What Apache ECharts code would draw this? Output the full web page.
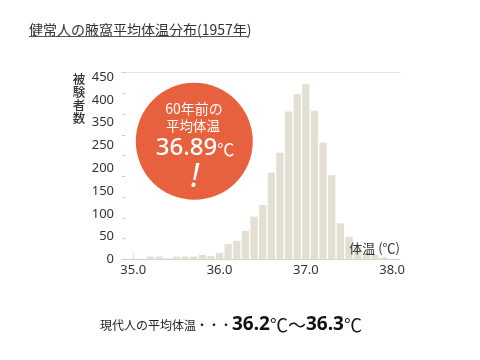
<!DOCTYPE html>
<html>
<head>
<meta charset="utf-8">
<script src="https://cdn.jsdelivr.net/npm/echarts@6/dist/echarts.min.js"></script>
<style>html,body{margin:0;padding:0;background:#fff;}#c{width:480px;height:360px;}</style>
</head>
<body>
<div id="c"></div>
<script>
// Data
var temps  = [35.2,35.3,35.4,35.5,35.6,35.7,35.8,35.9,36.0,36.1,36.2,36.3,36.4,36.5,36.6,36.7,36.8,36.9,37.0,37.1,37.2,37.3,37.4,37.5,37.6,37.7,37.8,37.9];
var counts = [7,7,3,7,7,7,11,8,16,37,45,69,103,131,209,257,356,398,422,358,281,203,87,55,30,16,11,5];
var xTickValues = [35, 36, 37, 38];
var yTickLabels = ['0','50','100','150','200','250','350','400','450'];

var chart = echarts.init(document.getElementById('c'), null, {renderer:'canvas'});
var cjk = '"Noto Sans CJK JP", "Noto Sans", sans-serif';
var sans = '"Noto Sans", "Noto Sans CJK JP", sans-serif';

chart.setOption({
  animation: false,
  backgroundColor: '#fff',
  grid: {left: 122, right: 80, top: 72.5, bottom: 100.5, containLabel: false},
  xAxis: [{
    type: 'value', min: 34.87, max: 38.091,
    axisLine: {show: true, lineStyle: {color: '#cfcfcf', width: 1}},
    axisTick: {show: true, customValues: [35], inside: true, length: 6, lineStyle: {color: '#dcdcdc'}},
    axisLabel: {customValues: xTickValues, formatter: function(v){return v.toFixed(1);}, fontSize: 13, color: '#333', margin: 4, fontFamily: sans},
    splitLine: {show: false}
  },{
    type: 'value', position: 'top', min: 34.87, max: 38.091,
    axisLine: {show: true, onZero: false, lineStyle: {color: '#e2e2e2', width: 1}},
    axisTick: {show: false}, axisLabel: {show: false}, splitLine: {show: false}
  }],
  yAxis: [{
    type: 'value', min: 0, max: 450, interval: 50,
    axisLine: {show: false},
    axisTick: {show: true, inside: true, length: 3, lineStyle: {color: '#cccccc'}},
    axisLabel: {show: false}, splitLine: {show: false}
  },{
    type: 'value', position: 'left', min: 0, max: 8.205, interval: 1,
    axisLine: {show: false}, axisTick: {show: false}, splitLine: {show: false},
    axisLabel: {
      showMaxLabel: false, margin: 8, fontSize: 13, color: '#333', fontFamily: sans,
      formatter: function(v){ return (Math.abs(v - Math.round(v)) < 1e-6 && yTickLabels[Math.round(v)] !== undefined) ? yTickLabels[Math.round(v)] : ''; }
    }
  }],
  series: [{
    type: 'bar', xAxisIndex: 0, yAxisIndex: 0,
    barWidth: 7.3,
    itemStyle: {color: '#e3dfd2'},
    silent: true,
    z: 2,
    data: temps.map(function(t, i){ return [t, counts[i]]; })
  }],
  graphic: [
    {type: 'text', z: 100, style: {text: '健常人の腋窩平均体温分布(1957年)', x: 29, y: 29.5, verticalAlign: 'middle', align: 'left', fontSize: 14, fontFamily: cjk, fill: '#333'}},
    {type: 'line', z: 100, shape: {x1: 29, y1: 36.5, x2: 248, y2: 36.5}, style: {stroke: '#555', lineWidth: 1}},
    {type: 'text', z: 100, style: {text: '被\n験\n者\n数', x: 79, y: 73, align: 'center', verticalAlign: 'top', fontSize: 12.5, lineHeight: 12.8, fontFamily: cjk, fontWeight: 500, fill: '#333'}},
    {type: 'text', z: 100, style: {text: '体温 (℃)', x: 400, y: 248, align: 'right', verticalAlign: 'middle', fontSize: 13, fontFamily: cjk, fill: '#333'}},
    {type: 'circle', z: 100, shape: {cx: 194.3, cy: 141.3, r: 58.5}, style: {fill: '#e8613e'}},
    {type: 'text', z: 101, style: {text: '60年前の', x: 194, y: 109, align: 'center', verticalAlign: 'middle', fontSize: 14, fontFamily: cjk, fill: '#fff'}},
    {type: 'text', z: 101, style: {text: '平均体温', x: 193, y: 126, align: 'center', verticalAlign: 'middle', fontSize: 13.5, fontFamily: cjk, fill: '#fff'}},
    {type: 'text', z: 101, style: {
      text: '{a|36.89}{b|℃}', x: 195, y: 148, align: 'center', verticalAlign: 'middle',
      rich: {a: {fontSize: 24, fontFamily: sans, fontWeight: 500, fill: '#fff', color: '#fff'}, b: {fontSize: 17, fontFamily: cjk, fill: '#fff', color: '#fff', padding: [3,0,0,0]}}
    }},
    {type: 'text', z: 101, style: {text: '!', x: 195, y: 178, align: 'center', verticalAlign: 'middle', fontSize: 32, fontStyle: 'italic', fontFamily: sans, fontWeight: 'normal', fill: '#fff'}},
    {type: 'text', z: 100, style: {
      text: '{n|現代人の平均体温・・・}{b|36.2}{u|℃～}{b|36.3}{u|℃}', x: 100, y: 325, align: 'left', verticalAlign: 'middle',
      rich: {
        n: {fontSize: 12, fontFamily: cjk, color: '#222', fill: '#222'},
        b: {fontSize: 19, fontFamily: sans, fontWeight: 'bold', color: '#111', fill: '#111'},
        u: {fontSize: 18, fontFamily: cjk, color: '#111', fill: '#111'}
      }
    }}
  ]
});
</script>
</body>
</html>
